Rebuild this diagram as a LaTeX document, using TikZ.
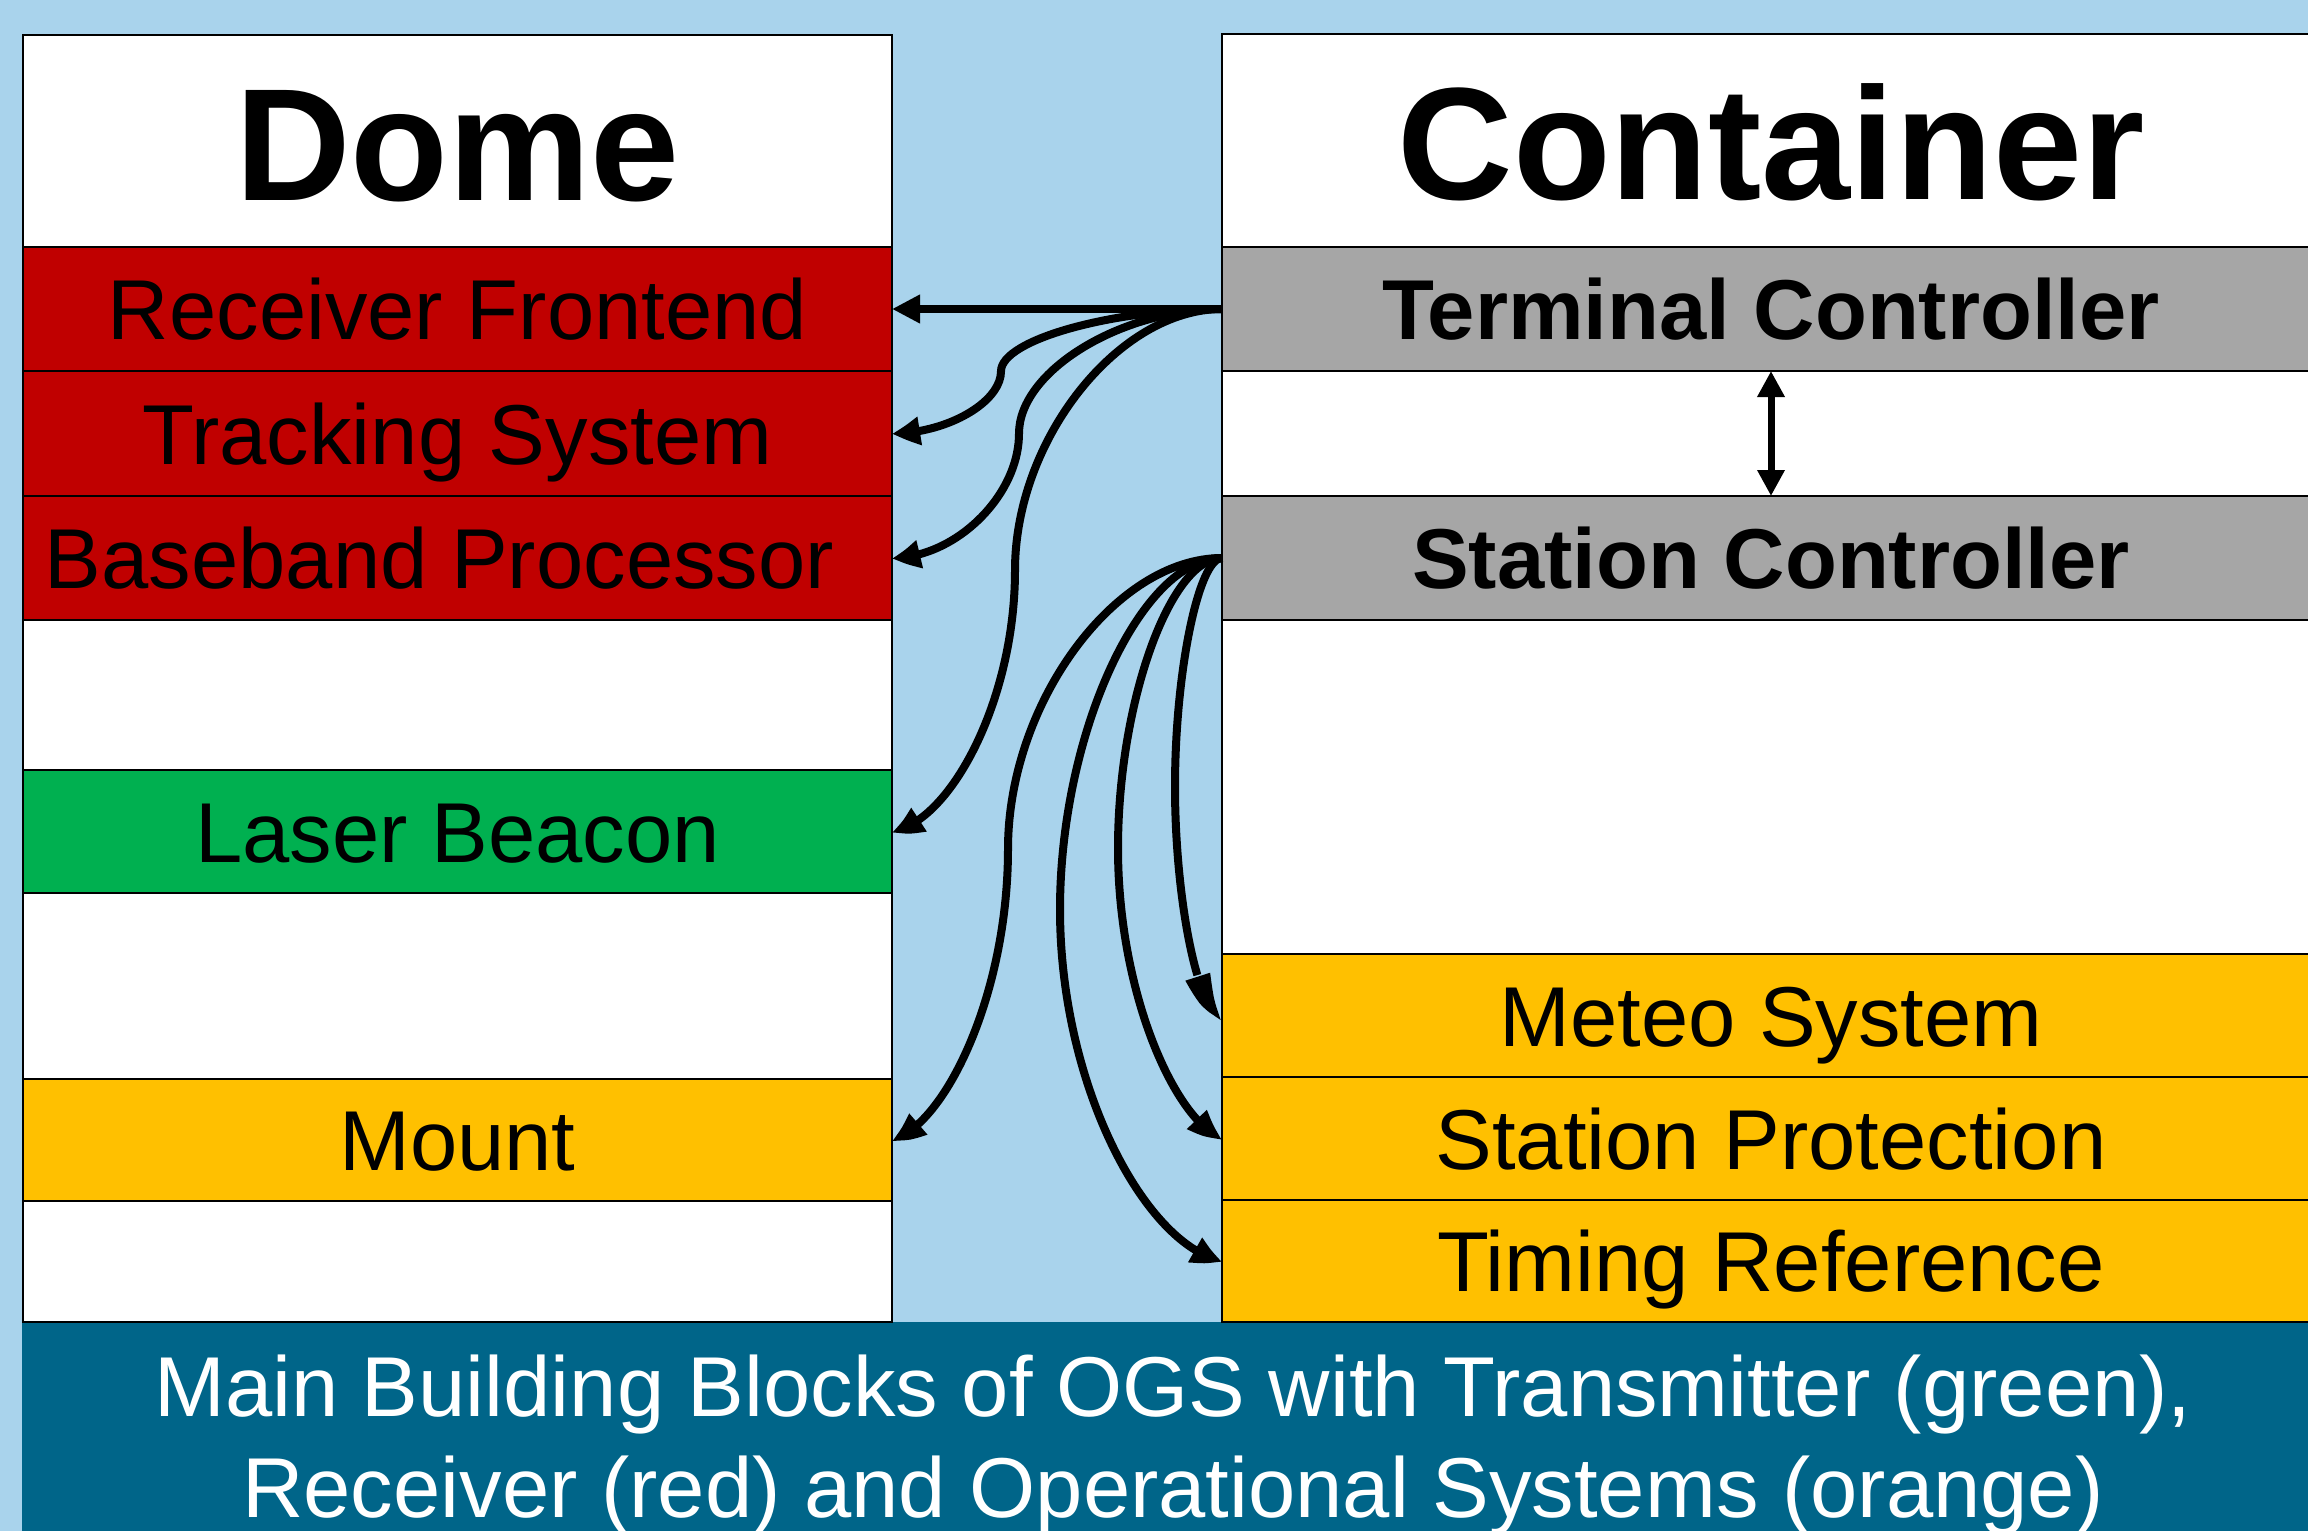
\documentclass[tikz,border=0pt]{standalone}
\usepackage{fontspec}
\setmainfont{Liberation Sans}
\usetikzlibrary{arrows.meta,bending}

\definecolor{skyback}{HTML}{A9D3EC}
\definecolor{rxred}{HTML}{C00000}
\definecolor{txgreen}{HTML}{00B050}
\definecolor{opgold}{HTML}{FFC000}
\definecolor{ctrlgray}{HTML}{A6A6A6}
\definecolor{barblue}{HTML}{006589}

\tikzset{
  block/.style={draw=black, line width=2pt, rectangle, inner sep=0pt, outer sep=0pt},
  rowtext/.style={text height=61pt, text depth=0pt, font=\fontsize{85}{100}\selectfont},
  domerow/.style={block, rowtext, minimum width=869pt, minimum height=124pt},
  controw/.style={block, rowtext, minimum width=1098pt, minimum height=124pt},
  titletext/.style={text height=118pt, text depth=0pt, font=\fontsize{160}{190}\selectfont\bfseries},
  conn/.style={line width=8pt, -{Triangle[length=28pt,width=27pt,bend]}},
  linkboth/.style={line width=7pt, {Triangle[length=26pt,width=26pt]}-{Triangle[length=26pt,width=26pt]}},
  captiontext/.style={text=white, anchor=base, inner sep=0pt, font=\fontsize{85}{101}\selectfont}
}

\begin{document}
\begin{tikzpicture}[x=1pt, y=-1pt]
  % canvas
  \fill[skyback] (0,0) rectangle (2308,1531);
  \useasboundingbox (0,0) rectangle (2308,1531);

  % caption bar
  \fill[barblue] (22,1322) rectangle (2330,1540);
  \node[captiontext] (cap1) at (1173,1416) {Main Building Blocks of OGS with Transmitter (green),};
  \node[captiontext] (cap2) at (1173,1517) {Receiver (red) and Operational Systems (orange)};

  % Dome column
  \node[block, fill=white, minimum width=869pt, minimum height=1287pt, anchor=north west] (dome) at (23,35) {};
  \node[block, fill=white, minimum width=869pt, minimum height=212pt, titletext] (dometitle) at (457.5,141) {Dome};
  \node[domerow, fill=rxred] (rf) at (457.5,309) {Receiver Frontend};
  \node[domerow, fill=rxred, minimum height=125pt] (ts) at (457.5,433.5) {Tracking System};
  \node[domerow, fill=rxred] (bp) at (457.5,558) {\hspace*{-36pt}Baseband Processor};
  \node[domerow, fill=txgreen, minimum height=123pt] (lb) at (457.5,831.5) {Laser Beacon};
  \node[domerow, fill=opgold, minimum height=122pt] (mount) at (457.5,1140) {Mount};

  % Container column
  \node[block, fill=white, minimum width=1098pt, minimum height=1288pt, anchor=north west] (container) at (1222,34) {};
  \node[block, fill=white, minimum width=1098pt, minimum height=213pt, titletext] (conttitle) at (1771,140.5) {Container};
  \node[controw, fill=ctrlgray, font=\fontsize{85}{100}\selectfont\bfseries] (tc) at (1771,309) {Terminal Controller};
  \node[controw, fill=ctrlgray, font=\fontsize{85}{100}\selectfont\bfseries] (sc) at (1771,558) {Station Controller};
  \node[controw, fill=opgold, minimum height=123pt] (meteo) at (1771,1015.5) {Meteo System};
  \node[controw, fill=opgold, minimum height=123pt] (sp) at (1771,1138.5) {Station Protection};
  \node[controw, fill=opgold, minimum height=122pt] (tr) at (1771,1261) {Timing Reference};

  % Terminal Controller links into the dome
  \draw[conn] (tc.west) -- (rf.east);
  \draw[conn] (tc.west) .. controls (1111.5,309) and (1001,340) .. (1001,371.25)
                        .. controls (1001,402.5) and (946.5,433.5) .. (ts.east);
  \draw[conn] (tc.west) .. controls (1120.5,309) and (1019,371.25) .. (1019,433.5)
                        .. controls (1019,495.75) and (955.5,558) .. (bp.east);
  \draw[conn] (tc.west) .. controls (1118.5,309) and (1015,439.6) .. (1015,570.25)
                        .. controls (1015,700.9) and (950,822) .. (lb.east);

  % Station Controller links
  \draw[conn] (sc.west) .. controls (1115,558) and (1008,703.5) .. (1008,849)
                        .. controls (1008,994.5) and (945,1125) .. (mount.east);
  \draw[conn] (sc.west) .. controls (1141,558) and (1060,733.75) .. (1060,909.5)
                        .. controls (1060,1085.25) and (1145,1245) .. (tr.west);
  \draw[conn] (sc.west) .. controls (1170,558) and (1118,703.1) .. (1118,848.25)
                        .. controls (1118,993.4) and (1175,1120) .. (sp.west);
  \draw[conn] (sc.west) .. controls (1198.5,558) and (1175,672.4) .. (1175,786.75)
                        .. controls (1175,901.1) and (1198.5,1015.5) .. (meteo.west);

  % controller to controller
  \draw[linkboth] (tc.south) -- (sc.north);
\end{tikzpicture}
\end{document}
